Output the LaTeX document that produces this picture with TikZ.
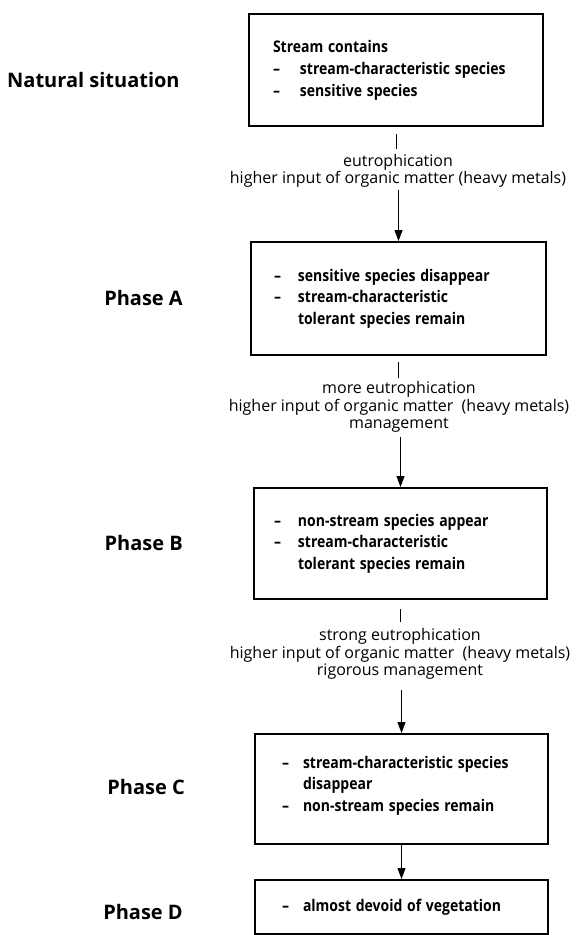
\documentclass[tikz,border=0pt]{standalone}
\usepackage{fontspec}
\setmainfont{Open Sans}
\usetikzlibrary{arrows.meta}
\newcommand{\dashcol}[1]{\begin{tabular}{@{}l@{\hspace{#1}}l@{}}}
\newcommand{\tallbox}[1]{\scalebox{1}[1.15]{#1}}
\begin{document}
\begin{tikzpicture}[x=1pt,y=-1pt,
  stage/.style={draw, line width=2pt, anchor=north west, align=left, inner ysep=0pt,
    font=\bfseries\fontsize{14}{19}\selectfont},
  phase/.style={anchor=east, inner sep=0pt, font=\bfseries\fontsize{20}{23}\selectfont},
  cause/.style={align=center, inner sep=0pt, font=\fontsize{16}{17.5}\selectfont},
  tick/.style={line width=0.9pt},
  flow/.style={line width=0.9pt, -{Triangle[length=11pt,width=8pt]}}]
\useasboundingbox (0,0) rectangle (576,935);

% boxes
\node[stage, minimum width=294pt, minimum height=112pt, inner xsep=24pt, text width=246pt] (b1) at (248,13)
  {\tallbox{\dashcol{20pt}\multicolumn{2}{@{}l@{}}{Stream contains}\\ -- & stream-characteristic species\\ -- & sensitive species\end{tabular}}};
\node[stage, minimum width=295pt, minimum height=113pt, inner xsep=23pt, text width=249pt] (b2) at (250,241)
  {\tallbox{\dashcol{17pt}-- & sensitive species disappear\\ -- & stream-characteristic\\ & tolerant species remain\end{tabular}}};
\node[stage, minimum width=293pt, minimum height=111pt, inner xsep=20pt, text width=253pt] (b3) at (253,487)
  {\tallbox{\dashcol{17pt}-- & non-stream species appear\\ -- & stream-characteristic\\ & tolerant species remain\end{tabular}}};
\node[stage, minimum width=293pt, minimum height=110pt, inner xsep=27pt, text width=239pt] (b4) at (254,733)
  {\tallbox{\dashcol{14pt}-- & stream-characteristic species\\ & disappear\\ -- & non-stream species remain\\[6pt]\end{tabular}}};
\node[stage, minimum width=293pt, minimum height=54pt, inner xsep=27pt, text width=239pt] (b5) at (254,879)
  {\tallbox{\dashcol{14pt}-- & almost devoid of vegetation\end{tabular}}};

% phase labels
\node[phase, anchor=west] (p0) at (7,80) {Natural situation};
\node[phase] (p1) at (183,298) {Phase A};
\node[phase] (p2) at (183,543) {Phase B};
\node[phase] (p3) at (185,787) {Phase C};
\node[phase] (p4) at (183,912) {Phase D};

% cause labels
\node[cause] (l1) at (398,171) {eutrophication\\higher input of organic matter (heavy metals)};
\node[cause] (l2) at (399,407) {more eutrophication\\higher input of organic matter\ \ (heavy metals)\\management};
\node[cause] (l3) at (400,654) {strong eutrophication\\higher input of organic matter\ \ (heavy metals)\\rigorous management};

% connectors
\draw[tick] ([yshift=-7pt]b1.south) -- ([yshift=-22pt]b1.south);
\draw[flow] ([yshift=51pt]b2.north) -- (b2.north);
\draw[tick] ([yshift=-6pt]b2.south) -- ([yshift=-22pt]b2.south);
\draw[flow] ([yshift=50pt]b3.north) -- (b3.north);
\draw[tick] ([yshift=-9pt]b3.south) -- ([yshift=-22pt]b3.south);
\draw[flow] ([yshift=43pt]b4.north) -- (b4.north);
\draw[flow] (b4.south) -- (b5.north);
\end{tikzpicture}
\end{document}
